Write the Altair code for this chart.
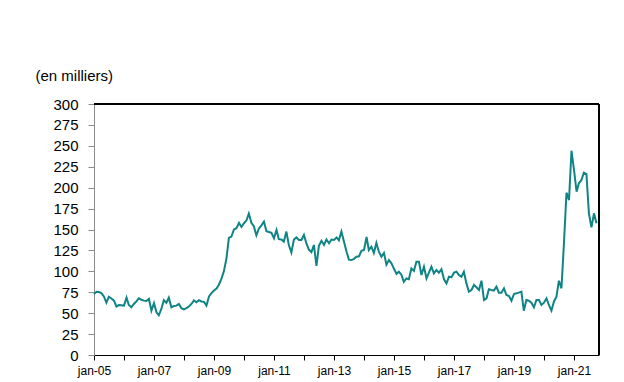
import altair as alt
import pandas as pd

# Monthly values (in thousands), Jan 2005 - Oct 2021
v2005 = [72.9, 75.6, 75.3, 74.0, 70.0, 62.5, 69.7, 67.5, 65.0, 58.0, 59.7, 59.5]
v2006 = [59.0, 68.5, 59.7, 57.0, 61.0, 64.0, 67.7, 66.0, 65.0, 64.5, 67.0, 53.0]
v2007 = [62.0, 51.0, 47.5, 55.0, 65.5, 62.5, 68.5, 57.0, 58.5, 59.0, 61.0, 56.0]
v2008 = [54.5, 56.0, 58.0, 61.0, 65.3, 63.0, 65.5, 64.0, 63.5, 59.0, 70.0, 74.0]
v2009 = [77.0, 79.5, 84.0, 91.0, 100.0, 115.0, 140.0, 141.5, 150.0, 151.5, 158.0, 153.0]
v2010 = [157.5, 161.0, 169.0, 158.0, 154.0, 143.0, 151.0, 155.0, 159.5, 148.0, 147.0, 146.0]
v2011 = [139.5, 149.5, 138.5, 138.0, 135.5, 147.5, 131.5, 122.5, 138.0, 140.5, 137.5, 137.5]
v2012 = [143.5, 133.0, 126.0, 123.0, 131.5, 106.5, 130.5, 136.5, 131.5, 138.0, 133.5, 138.0]
v2013 = [137.5, 140.5, 137.0, 147.5, 136.0, 124.0, 114.0, 113.5, 115.0, 117.5, 118.0, 124.5]
v2014 = [125.5, 141.0, 125.5, 129.5, 122.0, 134.0, 123.5, 117.5, 122.0, 108.0, 113.5, 109.5]
v2015 = [103.0, 97.0, 99.5, 96.0, 87.5, 91.5, 90.5, 103.5, 100.5, 111.5, 111.5, 95.6]
v2016 = [105.5, 91.6, 98.4, 105.5, 97.6, 101.6, 98.4, 102.4, 90.4, 85.6, 93.6, 93.0]
v2017 = [98.4, 99.6, 95.6, 93.6, 99.6, 85.6, 75.7, 77.7, 83.7, 81.0, 77.7, 88.8]
v2018 = [65.7, 67.7, 78.5, 77.7, 77.0, 81.7, 74.5, 74.5, 79.7, 71.7, 70.5, 64.9]
v2019 = [72.9, 73.7, 74.5, 75.7, 53.0, 65.7, 64.9, 62.5, 57.0, 65.7, 65.7, 59.8]
v2020 = [62.5, 67.7, 59.8, 53.0, 63.7, 69.7, 88.8, 79.7, 135.0, 194.0, 185.2, 244.2]
v2021 = [221.0, 195.2, 205.2, 209.0, 217.9, 216.3, 169.3, 152.6, 169.3, 157.4]

values = (v2005 + v2006 + v2007 + v2008 + v2009 + v2010 + v2011 + v2012 + v2013
          + v2014 + v2015 + v2016 + v2017 + v2018 + v2019 + v2020 + v2021)
dates = pd.date_range("2005-01-01", periods=len(values), freq="MS").strftime("%Y-%m-%d").tolist()
df = pd.DataFrame({"date": dates, "value": values})

y_ticks = list(range(0, 301, 25))
year_ticks = [alt.DateTime(year=y, month=1, date=1, utc=True) for y in range(2005, 2022)]
x_start = alt.DateTime(year=2005, month=1, date=1, utc=True)
x_end = alt.DateTime(year=2021, month=11, date=1, utc=True)

FONT = "Liberation Sans"

x_scale = alt.Scale(type="utc", domain=[x_start, x_end])
y_scale = alt.Scale(domain=[0, 300], nice=False)

x_axis = alt.Axis(
    values=year_ticks,
    labelExpr="utcyear(datum.value) % 2 == 1 ? 'jan-' + utcFormat(datum.value, '%y') : ''",
    title=None,
    grid=False,
    labelOverlap=False,
    labelFlush=False,
    labelFont=FONT,
    labelFontSize=12,
    labelColor="black",
    labelPadding=5,
    domainColor="black",
    domainWidth=1,
    tickColor="black",
    tickSize=5,
)

y_axis = alt.Axis(
    values=y_ticks,
    title="(en milliers)",
    titleAngle=0,
    titleAlign="left",
    titleBaseline="middle",
    titleX=-59,
    titleY=-29,
    titleFont=FONT,
    titleFontSize=15,
    titleFontWeight="normal",
    titleColor="black",
    grid=False,
    labelFont=FONT,
    labelFontSize=15,
    labelColor="black",
    labelPadding=10,
    labelOverlap=False,
    domainColor="#8c8c8c",
    tickColor="#8c8c8c",
    tickSize=6,
)

line = alt.Chart(df).mark_line(color="#108484", strokeWidth=2).encode(
    x=alt.X("date:T", scale=x_scale, axis=x_axis),
    y=alt.Y("value:Q", scale=y_scale, axis=y_axis),
)

# plot-area frame: top and right edges
top_edge = alt.Chart(df).mark_rule(color="black", strokeWidth=1).encode(
    y=alt.YDatum(300, scale=y_scale, axis=y_axis)
)
right_edge = alt.Chart(df).mark_rule(color="black", strokeWidth=1).encode(
    x=alt.XDatum(x_end, type="temporal", scale=x_scale, axis=x_axis)
)

chart = (
    alt.layer(line, top_edge, right_edge)
    .properties(
        width=505,
        height=251,
        autosize=alt.AutoSizeParams(type="none"),
        padding={"left": 86, "top": 96, "right": 17, "bottom": 28},
    )
    .configure_view(stroke=None)
)

chart.save("out.html", embed_options={"renderer": "svg", "actions": False})
